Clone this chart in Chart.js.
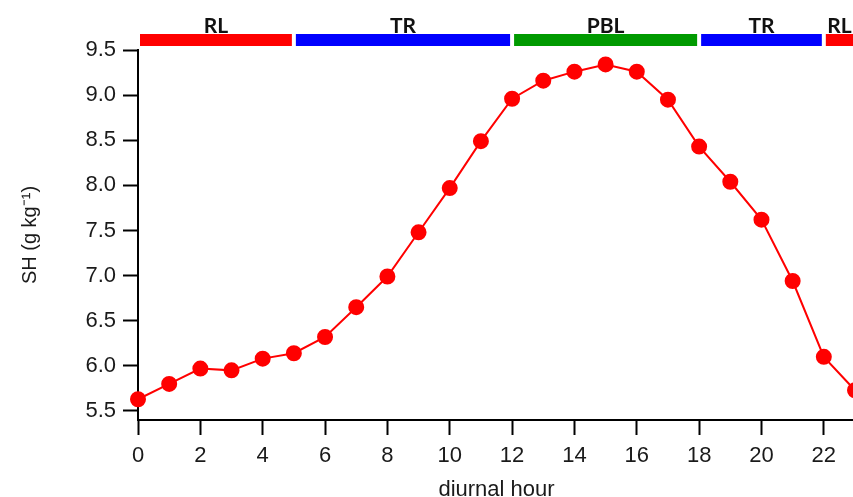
<!DOCTYPE html>
<html>
<head>
<meta charset="utf-8">
<script src="https://cdn.jsdelivr.net/npm/chart.js@4"></script>
<style>
    html, body { margin: 0; padding: 0; overflow: hidden; background: #fff; }
    #wrap { position: absolute; left: 0; top: 0; }
</style>
</head>
<body>
<div id="wrap"><canvas id="shChart" width="864" height="505"></canvas></div>
<script>
const hours = [0, 1, 2, 3, 4, 5, 6, 7, 8, 9, 10, 11, 12, 13, 14, 15, 16, 17, 18, 19, 20, 21, 22, 23];
const sh = [5.63, 5.80, 5.97, 5.95, 6.08, 6.14, 6.32, 6.65, 6.99, 7.48, 7.97, 8.49, 8.96, 9.16, 9.26, 9.34, 9.26, 8.95, 8.43, 8.04, 7.62, 6.94, 6.10, 5.73];

// boundary layer phases drawn above the plot
const phaseLabels = ['RL', 'TR', 'PBL', 'TR', 'RL'];
const phaseStart = [0, 5, 12, 18, 22];
const phaseEnd = [5, 12, 18, 22, 23];
const phaseColors = ['#ff0000', '#0000ff', '#009a00', '#0000ff', '#ff0000'];

const phaseBars = {
    id: 'phaseBars',
    afterDraw(chart) {
        const ctx = chart.ctx;
        const x = chart.scales.x;
        const top = chart.chartArea.top;
        ctx.save();
        phaseLabels.forEach((label, i) => {
            const x1 = x.getPixelForValue(phaseStart[i]) + 2;
            const x2 = x.getPixelForValue(phaseEnd[i]) - 2;
            ctx.fillStyle = phaseColors[i];
            ctx.fillRect(x1, top - 16, x2 - x1, 12);
            ctx.fillStyle = '#111';
            ctx.font = 'bold 21px Lato, "Liberation Sans", sans-serif';
            ctx.textAlign = 'center';
            ctx.textBaseline = 'alphabetic';
            ctx.fillText(label, (x1 + x2) / 2, top - 17);
        });
        ctx.restore();
    }
};

const tickFont = { family: '"Liberation Sans", Arial, sans-serif', size: 22 };

new Chart(document.getElementById('shChart'), {
    type: 'line',
    data: {
        datasets: [{
            data: hours.map((h, i) => ({ x: h, y: sh[i] })),
            borderColor: '#ff0000',
            backgroundColor: '#ff0000',
            borderWidth: 2,
            pointRadius: 7,
            pointHoverRadius: 7,
            pointBackgroundColor: '#ff0000',
            pointBorderColor: '#ff0000',
            tension: 0,
            clip: false
        }]
    },
    options: {
        responsive: false,
        animation: false,
        layout: { padding: { left: 0, right: 7, top: 50, bottom: 0 } },
        plugins: {
            legend: { display: false },
            tooltip: { enabled: false }
        },
        scales: {
            x: {
                type: 'linear',
                min: 0,
                max: 23,
                afterFit: scale => { scale.height = 85; },
                ticks: {
                    stepSize: 2,
                    includeBounds: false,
                    color: '#1a1a1a',
                    font: tickFont,
                    padding: 8,
                    maxRotation: 0
                },
                grid: {
                    drawOnChartArea: false,
                    tickLength: 15,
                    tickColor: '#000',
                    tickWidth: 2
                },
                border: { display: true, color: '#000', width: 2 },
                title: {
                    display: true,
                    text: 'diurnal hour',
                    color: '#1a1a1a',
                    font: tickFont,
                    padding: { top: 0, bottom: 2 }
                }
            },
            y: {
                min: 5.4,
                max: 9.5,
                afterFit: scale => { scale.width = 138; },
                ticks: {
                    stepSize: 0.5,
                    includeBounds: false,
                    color: '#1a1a1a',
                    font: tickFont,
                    padding: 7,
                    callback: v => v.toFixed(1)
                },
                grid: {
                    drawOnChartArea: false,
                    tickLength: 15,
                    tickColor: '#000',
                    tickWidth: 2
                },
                border: { display: true, color: '#000', width: 2 },
                title: {
                    display: true,
                    text: 'SH (g kg\u207B\u00B9)',
                    color: '#1a1a1a',
                    font: { family: '"Liberation Sans", Arial, sans-serif', size: 20 },
                    padding: { top: 18, bottom: 0 }
                }
            }
        }
    },
    plugins: [phaseBars]
});
</script>
</body>
</html>
